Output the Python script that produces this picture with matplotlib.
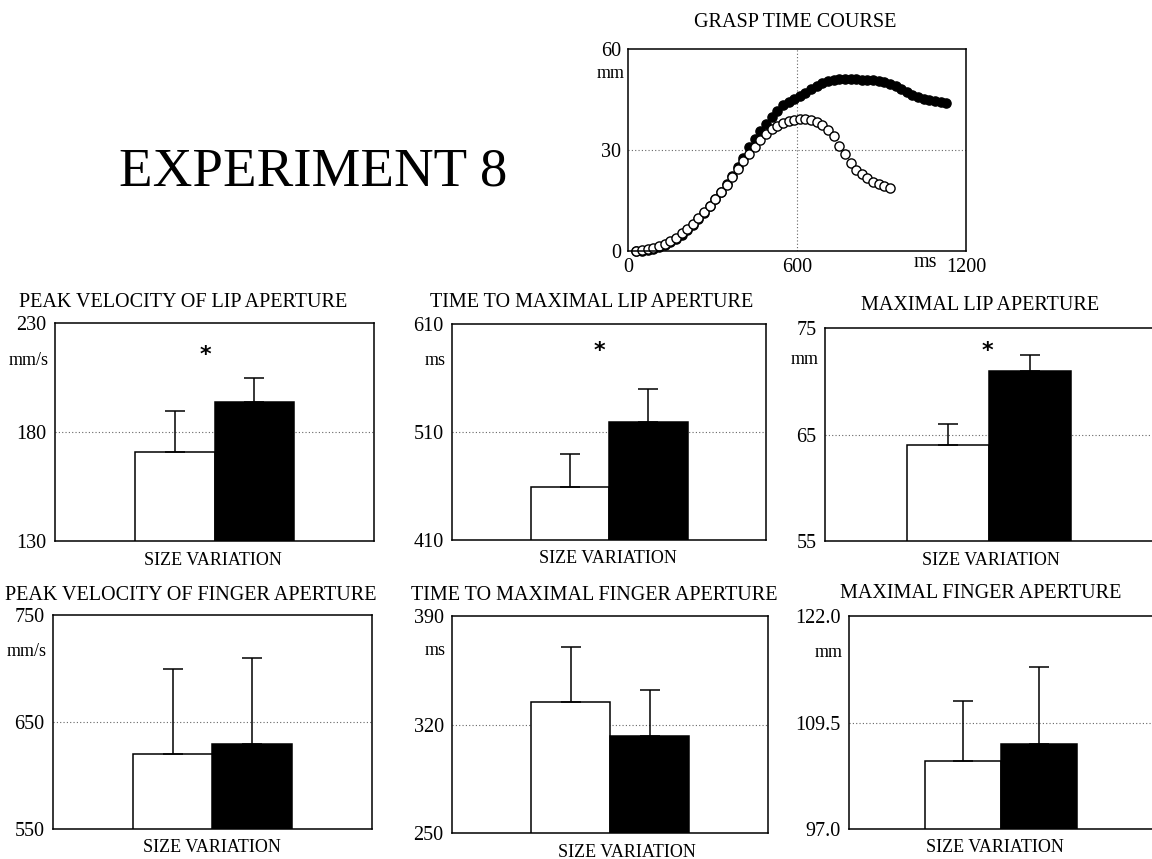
import numpy as np
import matplotlib.pyplot as plt

plt.rcParams['font.family'] = ['Liberation Serif', 'DejaVu Serif']

# grasp time course (ms, mm): open circles = small object, filled = large object
t_small = [30, 50, 70, 90, 110, 130, 150, 170, 190, 210, 230, 250, 270, 290, 310,
           330, 350, 370, 390, 410, 430, 450, 470, 490, 510, 530, 550, 570, 590, 610,
           630, 650, 670, 690, 710, 730, 750, 770, 790, 810, 830, 850, 870, 890, 910, 930]
ap_small = [0.0, 0.2, 0.5, 0.9, 1.5, 2.2, 3.0, 4.0, 5.2, 6.6, 8.1, 9.7, 11.5, 13.4, 15.4,
            17.5, 19.7, 22.0, 24.3, 26.6, 28.9, 31.0, 33.0, 34.7, 36.1, 37.2, 38.0, 38.6, 39.0, 39.3,
            39.3, 39.0, 38.4, 37.4, 36.0, 34.3, 31.3, 28.8, 26.0, 24.2, 22.9, 21.6, 20.4, 19.8, 19.3, 18.8]
t_large = [30, 50, 70, 90, 110, 130, 150, 170, 190, 210, 230, 250, 270, 290, 310,
           330, 350, 370, 390, 410, 430, 450, 470, 490, 510, 530, 550, 570, 590, 610,
           630, 650, 670, 690, 710, 730, 750, 770, 790, 810, 830, 850, 870, 890, 910,
           930, 950, 970, 990, 1010, 1030, 1050, 1070, 1090, 1110, 1130]
ap_large = [0.0, 0.1, 0.3, 0.6, 1.1, 1.8, 2.6, 3.6, 4.8, 6.2, 7.8, 9.5, 11.3, 13.3, 15.4,
            17.6, 19.8, 22.3, 25.0, 27.6, 31.0, 33.4, 35.5, 37.7, 39.9, 41.6, 43.3, 44.3, 45.1, 46.0,
            47.0, 48.0, 49.0, 49.9, 50.5, 50.8, 51.0, 51.0, 51.0, 51.0, 50.9, 50.8, 50.7, 50.5, 50.2,
            49.6, 48.9, 48.0, 47.1, 46.3, 45.7, 45.2, 44.8, 44.5, 44.3, 44.1]

# bar panels
titles = ['PEAK VELOCITY OF LIP APERTURE', 'TIME TO MAXIMAL LIP APERTURE', 'MAXIMAL LIP APERTURE',
          'PEAK VELOCITY OF FINGER APERTURE', 'TIME TO MAXIMAL FINGER APERTURE', 'MAXIMAL FINGER APERTURE']
units = ['mm/s', 'ms', 'mm', 'mm/s', 'ms', 'mm']
y_ticks = [[130, 180, 230], [410, 510, 610], [55, 65, 75],
           [550, 650, 750], [250, 320, 390], [97.0, 109.5, 122.0]]
tick_fmt = ['%d', '%d', '%d', '%d', '%d', '%.1f']
small_mean = [170.7, 459.5, 64.0, 620.0, 334.4, 105.0]
small_sd = [19.1, 30.1, 2.0, 79.9, 35.8, 7.0]
large_mean = [193.9, 519.6, 71.0, 629.0, 312.5, 107.0]
large_sd = [11.0, 30.3, 1.5, 80.6, 29.8, 9.0]
significant = [True, True, True, False, False, False]

W, H = 1152, 859
fig = plt.figure(figsize=(W / 100, H / 100), dpi=100)


def rect(l, t, r, b):
    return [l / W, 1 - b / H, (r - l) / W, (b - t) / H]


def ftext(x, y, s, **kw):
    fig.text(x / W, 1 - y / H, s, **kw)


dot = (0, (1, 2))

# top: time course
ax = fig.add_axes(rect(628, 49, 966, 251))
ax.axhline(30, ls=dot, color='0.4', lw=0.8, zorder=0)
ax.axvline(600, ls=dot, color='0.4', lw=0.8, zorder=0)
ax.plot(t_large, ap_large, 'o', ms=6.6, mfc='black', mec='black', mew=1.0, clip_on=False)
ax.plot(t_small, ap_small, 'o', ms=6.6, mfc='white', mec='black', mew=1.0, clip_on=False)
ax.set_xlim(0, 1200)
ax.set_ylim(0, 60)
ax.set_xticks([0, 600, 1200])
ax.set_yticks([0, 30, 60])
ax.tick_params(length=0, labelsize=14.5, pad=5)
for sp in ax.spines.values():
    sp.set_linewidth(1.1)
ax.text(-0.01, 0.88, 'mm', transform=ax.transAxes, ha='right', va='center', fontsize=13)
ftext(925, 267, 'ms', ha='center', va='baseline', fontsize=14.5)
ftext(795, 27, 'GRASP TIME COURSE', ha='center', va='baseline', fontsize=14.5)

ftext(313, 185, 'EXPERIMENT 8', ha='center', va='baseline', fontsize=39.5)

boxes = [(55, 323, 374, 541), (452, 324, 766, 540), (825, 328, 1153, 541),
         (53, 615, 372, 829), (452, 616, 768, 833), (849, 616, 1153, 829)]
title_pos = [(183, 307), (592, 307), (980, 310), (191, 600), (594, 600), (981, 598)]
size_pos = [(213, 565), (608, 563), (991, 565), (212, 852), (627, 857), (995, 852)]
star_pos = [(0.473, 0.855), (0.468, 0.875), (0.495, 0.89)]
unit_y = [0.83, 0.833, 0.85, 0.83, 0.84, 0.83]

for i in range(6):
    ax = fig.add_axes(rect(*boxes[i]))
    lo, mid, hi = y_ticks[i]
    ax.axhline(mid, ls=dot, color='0.4', lw=0.8, zorder=0)
    ax.bar([0.375, 0.625], [small_mean[i], large_mean[i]], width=0.25,
           color=['white', 'black'], edgecolor='black', linewidth=1.1, zorder=1)
    ax.errorbar([0.375, 0.625], [small_mean[i], large_mean[i]],
                yerr=[[0, 0], [small_sd[i], large_sd[i]]], fmt='none',
                ecolor='black', elinewidth=1.1, capsize=7.5, capthick=1.1, zorder=2)
    ax.set_xlim(0, 1)
    ax.set_ylim(lo, hi)
    ax.set_xticks([])
    ax.set_yticks(y_ticks[i])
    ax.set_yticklabels([tick_fmt[i] % v for v in y_ticks[i]])
    ax.tick_params(length=0, labelsize=14.5, pad=6)
    for sp in ax.spines.values():
        sp.set_linewidth(1.1)
    ax.text(-0.02, unit_y[i], units[i], transform=ax.transAxes, ha='right', va='center', fontsize=13)
    if significant[i]:
        sx, sy = star_pos[i]
        ax.text(sx, sy, '*', transform=ax.transAxes, ha='center', va='center',
                fontsize=16, fontweight='bold', family='DejaVu Sans')
    ftext(title_pos[i][0], title_pos[i][1], titles[i], ha='center', va='baseline', fontsize=14.5)
    ftext(size_pos[i][0], size_pos[i][1], 'SIZE VARIATION', ha='center', va='baseline', fontsize=13)

fig.savefig('out.png', dpi=100)
